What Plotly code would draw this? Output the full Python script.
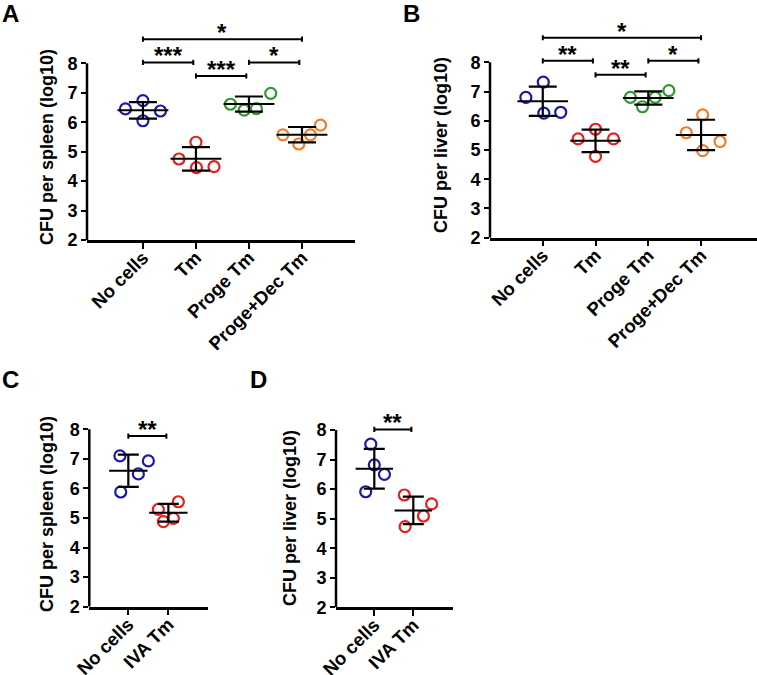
import plotly.graph_objects as go
import numpy as np

W, H = 757, 675
FONT = "Liberation Sans, Arial, sans-serif"

# ---------------- data ----------------
categories_top = ["No cells", "Tm", "Proge Tm", "Proge+Dec Tm"]
categories_bottom = ["No cells", "IVA Tm"]
y_ticks = [2, 3, 4, 5, 6, 7, 8]
colors_top = ["#1a1aa8", "#e3201c", "#2e9a2e", "#f07d2a"]
colors_bottom = ["#1a1aa8", "#e3201c"]

# Panel A: CFU per spleen
A_no_cells = [6.45, 6.73, 6.38, 6.05]
A_tm = [4.75, 5.32, 4.46, 4.49]
A_proge_tm = [6.61, 6.41, 6.46, 6.98]
A_proge_dec_tm = [5.57, 5.26, 5.57, 5.90]
A_jitter = [[-0.33, 0.0, 0.33, 0.0], [-0.32, 0.0, 0.01, 0.34],
            [-0.35, -0.09, 0.14, 0.41], [-0.36, -0.06, 0.16, 0.35]]
A_brackets = [(0, 3, 8.82, "*"), (0, 1, 8.03, "***"), (1, 2, 7.57, "***"), (2, 3, 8.03, "*")]

# Panel B: CFU per liver
B_no_cells = [6.80, 7.32, 6.26, 6.29]
B_tm = [5.38, 5.71, 4.78, 5.38]
B_proge_tm = [6.80, 6.48, 6.80, 7.03]
B_proge_dec_tm = [5.59, 6.20, 4.98, 5.29]
B_jitter = [[-0.32, 0.01, 0.02, 0.34], [-0.33, 0.0, 0.0, 0.34],
            [-0.34, -0.11, 0.13, 0.39], [-0.28, 0.03, 0.03, 0.36]]
B_brackets = [(0, 3, 8.84, "*"), (0, 1, 8.05, "**"), (1, 2, 7.57, "**"), (2, 3, 8.05, "*")]

# Panel C: CFU per spleen
C_no_cells = [7.10, 6.93, 6.49, 5.88]
C_iva_tm = [5.29, 5.55, 4.88, 4.99]
C_jitter = [[-0.21, 0.5, 0.25, -0.19], [-0.25, 0.25, -0.125, 0.125]]
C_brackets = [(0, 1, 7.77, "**")]

# Panel D: CFU per liver
D_no_cells = [7.52, 6.82, 6.50, 5.91]
D_iva_tm = [5.80, 5.50, 5.09, 4.73]
D_jitter = [[-0.09, 0.0, 0.26, -0.22], [-0.23, 0.47, 0.26, -0.21]]
D_brackets = [(0, 1, 8.02, "**")]

# ---------------- figure ----------------
fig = go.Figure()
annotations = []
shapes = []


def px_to_xfrac(px):
    return px / W


def px_to_yfrac(py):
    return 1 - py / H


def add_panel(idx, letter, letter_pos, title, title_pos, cats, groups, jitters, colors,
              brackets, xbox, xrange_, ybox, y8_px, y2_px, cap_px):
    sfx = "" if idx == 1 else str(idx)
    xa, ya = "x" + sfx, "y" + sfx
    unit = (y2_px - y8_px) / 6.0
    ytop = 2 + (y2_px - ybox[0]) / unit

    for i, (vals, jit, col) in enumerate(zip(groups, jitters, colors)):
        fig.add_trace(go.Scatter(
            x=[i + j for j in jit], y=vals, mode="markers", xaxis=xa, yaxis=ya,
            marker=dict(symbol="circle-open", size=11, color=col, line=dict(width=2.2, color=col)),
            showlegend=False, cliponaxis=False, hoverinfo="skip"))
    for i, vals in enumerate(groups):
        m = float(np.mean(vals))
        sd = float(np.std(vals, ddof=1))
        fig.add_trace(go.Scatter(
            x=[i - 0.48, i + 0.48], y=[m, m], mode="lines", xaxis=xa, yaxis=ya,
            line=dict(color="black", width=2), showlegend=False, hoverinfo="skip"))
        fig.add_trace(go.Scatter(
            x=[i], y=[m], mode="markers", xaxis=xa, yaxis=ya,
            marker=dict(size=1, opacity=0),
            error_y=dict(type="data", array=[sd], width=cap_px, thickness=2.2, color="black"),
            showlegend=False, hoverinfo="skip"))
    h = 2.6 / unit
    for (g1, g2, yv, lab) in brackets:
        x0 = g1
        x1 = g2 - (0.05 if g2 - g1 == 1 else 0)
        fig.add_trace(go.Scatter(
            x=[x0, x0, None, x0, x1, None, x1, x1],
            y=[yv - h, yv + h, None, yv, yv, None, yv - h, yv + h],
            mode="lines", xaxis=xa, yaxis=ya, line=dict(color="black", width=2),
            showlegend=False, hoverinfo="skip"))
        annotations.append(dict(
            x=(x0 + x1) / 2, y=yv, xref=xa, yref=ya, text=lab, showarrow=False,
            xanchor="center", yanchor="bottom", yshift=-9,
            font=dict(family=FONT, size=24, color="black", weight="bold")))

    xlay = dict(
        domain=[px_to_xfrac(xbox[0]), px_to_xfrac(xbox[1])], range=list(xrange_),
        anchor=ya, tickmode="array", tickvals=list(range(len(cats))), ticktext=cats,
        tickangle=-45, ticks="outside", ticklen=6, tickwidth=2.2, tickcolor="black",
        ticklabelstandoff=-9,
        showline=True, linewidth=2.5, linecolor="black", showgrid=False, zeroline=False,
        automargin=False,
        tickfont=dict(family=FONT, size=18.5, color="black", weight="bold"), fixedrange=True)
    ylay = dict(
        domain=[px_to_yfrac(ybox[1]), px_to_yfrac(ybox[0])], range=[2, ytop],
        anchor=xa, tickmode="array", tickvals=y_ticks, ticks="outside", ticklen=5,
        tickwidth=2.2, tickcolor="black", showline=False, showgrid=False, zeroline=False,
        automargin=False,
        tickfont=dict(family=FONT, size=18, color="black", weight="bold"), fixedrange=True)
    fig.layout["xaxis" + sfx] = xlay
    fig.layout["yaxis" + sfx] = ylay
    shapes.append(dict(type="line", xref=xa + " domain", yref=ya, x0=0, x1=0,
                       y0=2, y1=8, line=dict(color="black", width=2.5)))
    annotations.append(dict(
        x=px_to_xfrac(title_pos[0]), y=px_to_yfrac(title_pos[1]), xref="paper", yref="paper",
        text=title, textangle=-90, showarrow=False, xanchor="center", yanchor="middle",
        font=dict(family=FONT, size=18, color="black", weight="bold")))
    annotations.append(dict(
        x=px_to_xfrac(letter_pos[0]), y=px_to_yfrac(letter_pos[1]), xref="paper", yref="paper",
        text=letter, showarrow=False, xanchor="left", yanchor="middle",
        font=dict(family=FONT, size=24, color="black", weight="bold")))


add_panel(1, "A", (0, 14), "CFU per spleen (log10)", (47, 147),
          categories_top, [A_no_cells, A_tm, A_proge_tm, A_proge_dec_tm], A_jitter, colors_top,
          A_brackets, (87, 355), (-1.055, 4.0), (22, 240), 63.3, 240.0, 14)
add_panel(2, "B", (401, 13), "CFU per liver (log10)", (441, 145),
          categories_top, [B_no_cells, B_tm, B_proge_tm, B_proge_dec_tm], B_jitter, colors_top,
          B_brackets, (490, 757), (-1.0, 4.06), (22, 237.7), 62.3, 237.7, 14)
add_panel(3, "C", (0, 379), "CFU per spleen (log10)", (47, 514),
          categories_bottom, [C_no_cells, C_iva_tm], C_jitter, colors_bottom,
          C_brackets, (89.3, 208), (-0.975, 1.99), (405, 606.7), 429.3, 606.7, 10.5)
add_panel(4, "D", (248, 379), "CFU per liver (log10)", (290, 518),
          categories_bottom, [D_no_cells, D_iva_tm], D_jitter, colors_bottom,
          D_brackets, (336, 452.7), (-0.982, 2.01), (405, 607.3), 430.0, 607.3, 10.5)

fig.update_layout(
    width=W, height=H, margin=dict(l=0, r=0, t=0, b=0, autoexpand=False),
    paper_bgcolor="white", plot_bgcolor="white",
    annotations=annotations, shapes=shapes, showlegend=False,
    font=dict(family=FONT, color="black"))

fig.write_html("out.html", config={"displayModeBar": False},
               post_script="document.body.style.margin='0';document.body.style.overflow='hidden';")
